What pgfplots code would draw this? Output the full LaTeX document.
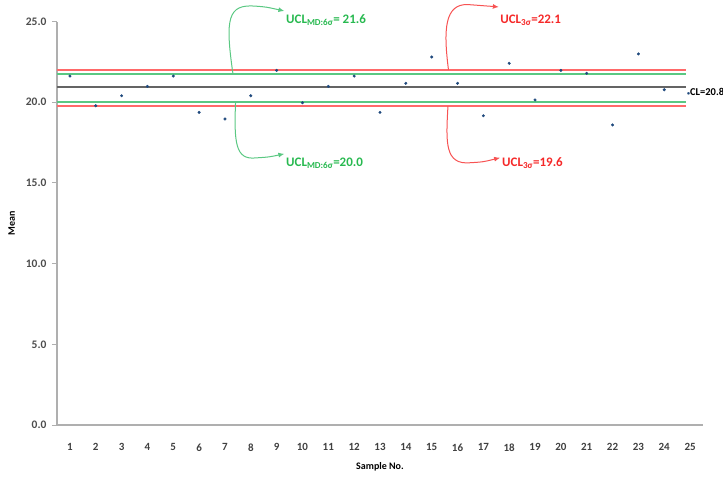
\documentclass[border=0pt]{standalone}
\usepackage{pgfplots}
\pgfplotsset{compat=1.18}
\usepackage{fontspec}
\setmainfont{Carlito}
\usetikzlibrary{arrows.meta}
\definecolor{ucl}{RGB}{255,105,105}
\definecolor{mdl}{RGB}{90,200,130}
\definecolor{clc}{RGB}{100,100,100}
\definecolor{pts}{RGB}{31,73,125}
\definecolor{gtxt}{RGB}{40,185,80}
\definecolor{rtxt}{RGB}{245,40,40}
\definecolor{axc}{RGB}{175,175,175}
\begin{document}
\begin{tikzpicture}
\begin{axis}[
  scale only axis, width=646pt, height=403.5pt,
  xmin=0.5, xmax=25.5, ymin=0, ymax=25,
  clip=false,
  axis x line*=bottom, axis y line*=left,
  axis line style={axc, line width=1.2pt, -},
  xtick={1,...,25}, ytick={0,5,...,25},
  x tick style={draw=none},
  y tick style={axc, line width=1pt},
  tick align=outside, major tick length=5pt,
  /pgf/number format/assume math mode=true,
  yticklabel style={/pgf/number format/.cd, fixed, fixed zerofill, precision=1, /tikz/.cd, font=\fontsize{11.5}{12}\selectfont\bfseries, text=black!70, xshift=-2pt},
  xticklabel style={font=\fontsize{11}{12}\selectfont\bfseries, text=black!75, yshift=-10pt},
  xlabel={Sample No.}, ylabel={Mean},
  xlabel style={font=\fontsize{10}{12}\selectfont\bfseries, yshift=-4pt},
  ylabel style={font=\fontsize{10}{12}\selectfont\bfseries, yshift=4pt},
]
\coordinate (BL) at (rel axis cs:0,0);
\coordinate (TR) at (rel axis cs:1,1);
\addplot[ucl, line width=1.6pt] coordinates {(0.5,22.01) (24.85,22.01)};
\addplot[mdl, line width=1.6pt] coordinates {(0.5,21.75) (24.85,21.75)};
\addplot[clc, line width=1.8pt] coordinates {(0.5,20.92) (24.85,20.92)};
\addplot[mdl, line width=1.6pt] coordinates {(0.5,20.01) (24.85,20.01)};
\addplot[ucl, line width=1.6pt] coordinates {(0.5,19.75) (24.85,19.75)};
\addplot[only marks, mark=*, mark size=1.3pt, pts] coordinates {
(1,21.62) (2,19.78) (3,20.40) (4,20.98) (5,21.62) (6,19.37) (7,18.96) (8,20.40)
(9,21.97) (10,19.97) (11,20.98) (12,21.62) (13,19.37) (14,21.17) (15,22.80)
(16,21.17) (17,19.16) (18,22.41) (19,20.14) (20,21.97) (21,21.79) (22,18.59)
(23,22.99) (24,20.77)};
% annotations
\draw[mdl, line width=1pt, -{Latex[length=6pt,width=5pt]}] (axis cs:7.31,21.75) .. controls (axis cs:7.0,25.2) and (axis cs:7.1,26.1) .. (axis cs:8.2,25.95) .. controls (axis cs:8.6,25.9) .. (axis cs:9.3,25.65);
\draw[mdl, line width=1pt, -{Latex[length=6pt,width=5pt]}] (axis cs:7.41,20.01) .. controls (axis cs:7.35,17.5) and (axis cs:7.4,16.4) .. (axis cs:8.2,16.55) .. controls (axis cs:8.7,16.6) .. (axis cs:9.3,16.8);
\draw[rtxt!80, line width=1pt, -{Latex[length=6pt,width=5pt]}] (axis cs:15.65,22.01) .. controls (axis cs:15.45,24.5) and (axis cs:15.5,26.1) .. (axis cs:16.4,26.05) .. controls (axis cs:16.9,26.0) .. (axis cs:17.6,25.9);
\draw[rtxt!80, line width=1pt, -{Latex[length=6pt,width=5pt]}] (axis cs:15.63,19.75) .. controls (axis cs:15.55,17.5) and (axis cs:15.5,16.1) .. (axis cs:16.5,16.25) .. controls (axis cs:17,16.3) .. (axis cs:17.65,16.56);
\node[anchor=west, inner sep=0pt, text=gtxt, font=\fontsize{13}{14}\selectfont\bfseries] at (axis cs:9.36,25.09) {UCL\textsubscript{MD:6σ}= 21.6};
\node[anchor=west, inner sep=0pt, text=gtxt, font=\fontsize{13}{14}\selectfont\bfseries] at (axis cs:9.36,16.23) {UCL\textsubscript{MD:6σ}=20.0};
\node[anchor=west, inner sep=0pt, text=rtxt, font=\fontsize{13}{14}\selectfont\bfseries] at (axis cs:17.65,25.09) {UCL\textsubscript{3σ}=22.1};
\node[anchor=west, inner sep=0pt, text=rtxt, font=\fontsize{13}{14}\selectfont\bfseries] at (axis cs:17.72,16.23) {UCL\textsubscript{3σ}=19.6};
\node[anchor=west, inner sep=0pt, text=black, font=\fontsize{10.5}{12}\selectfont\bfseries] at (axis cs:24.88,20.63) {\textcolor{pts}{\fontsize{6}{6}\selectfont\textbullet}CL=20.8};
\end{axis}
\pgfresetboundingbox
\path[use as bounding box] ([xshift=-57pt,yshift=-58pt]BL) rectangle ([xshift=20pt,yshift=21.5pt]TR);
\end{tikzpicture}
\end{document}
